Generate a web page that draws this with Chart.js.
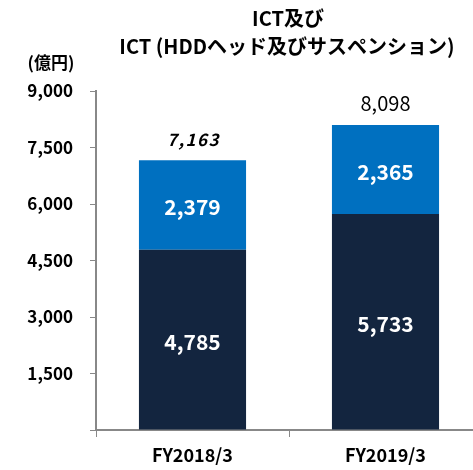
<!DOCTYPE html>
<html>
<head>
<meta charset="utf-8">
<script src="https://cdn.jsdelivr.net/npm/chart.js@4"></script>
<style>
  html, body { margin: 0; padding: 0; background: #fff; overflow: hidden; }
  #wrap { width: 482px; height: 470px; }
</style>
</head>
<body>
<div id="wrap"><canvas id="ictChart" width="482" height="470"></canvas></div>
<script>
const categories = ['FY2018/3', 'FY2019/3'];
const lowerValues = [4785, 5733];
const upperValues = [2379, 2365];
const totals = [7163, 8098];
const yTicks = [0, 1500, 3000, 4500, 6000, 7500, 9000];

const fontJP = '"Noto Sans CJK JP", "Noto Sans", sans-serif';
const fmt = v => v.toLocaleString('en-US');

// labels inside bars + totals + title text
const labelPlugin = {
    id: 'labels',
    afterDatasetsDraw(chart) {
        const ctx = chart.ctx;
        ctx.save();
        ctx.textAlign = 'center';
        ctx.textBaseline = 'middle';
        chart.data.datasets.forEach((ds, i) => {
            chart.getDatasetMeta(i).data.forEach((bar, j) => {
                ctx.fillStyle = '#ffffff';
                ctx.font = 'bold 21px ' + fontJP;
                ctx.fillText(fmt(ds.data[j]), bar.x, (bar.y + bar.base) / 2 + 2);
            });
        });
        const top = chart.getDatasetMeta(1).data;
        top.forEach((bar, j) => {
            ctx.fillStyle = '#000000';
            if (j === 0) {
                ctx.font = 'italic bold 17px ' + fontJP;
                ctx.letterSpacing = '1.5px';
                ctx.fillText(fmt(totals[j]), bar.x + 1, bar.y - 21);
                ctx.letterSpacing = '0px';
            } else {
                ctx.font = '20px ' + fontJP;
                ctx.fillText(fmt(totals[j]), bar.x, bar.y - 22);
            }
        });
        ctx.font = 'bold 20px ' + fontJP;
        ctx.fillText('ICT及び', 288, 18);
        ctx.fillText('ICT (HDDヘッド及びサスペンション)', 287, 46);
        ctx.font = 'bold 17px ' + fontJP;
        ctx.fillText('(億円)', 51, 63);
        ctx.restore();
    }
};

const ctx = document.getElementById('ictChart').getContext('2d');
new Chart(ctx, {
    type: 'bar',
    data: {
        labels: categories,
        datasets: [{
            data: lowerValues,
            backgroundColor: '#13253F',
            categoryPercentage: 0.555,
            barPercentage: 1
        }, {
            data: upperValues,
            backgroundColor: '#0070C0',
            categoryPercentage: 0.555,
            barPercentage: 1
        }]
    },
    options: {
        responsive: false,
        animation: false,
        layout: { padding: { top: 91, left: 0, right: 0, bottom: 0 } },
        scales: {
            x: {
                stacked: true,
                afterFit: s => { s.height = 40; },
                grid: { drawOnChartArea: false, tickLength: 7, color: '#888', offset: true },
                border: { color: '#888', width: 2 },
                ticks: { color: '#000', padding: 7, font: { family: fontJP, size: 18, weight: 'bold' } }
            },
            y: {
                stacked: true,
                min: 0,
                max: 9000,
                afterFit: s => { s.width = 96; },
                afterBuildTicks: s => { s.ticks = yTicks.map(v => ({ value: v })); },
                grid: { drawOnChartArea: false, tickLength: 6, color: '#888' },
                border: { color: '#888', width: 2 },
                ticks: {
                    color: '#000',
                    padding: 17,
                    font: { family: fontJP, size: 17, weight: 'bold' },
                    callback: v => v === 0 ? '' : fmt(v)
                }
            }
        },
        plugins: {
            legend: { display: false },
            tooltip: { enabled: false }
        }
    },
    plugins: [labelPlugin]
});
</script>
</body>
</html>
